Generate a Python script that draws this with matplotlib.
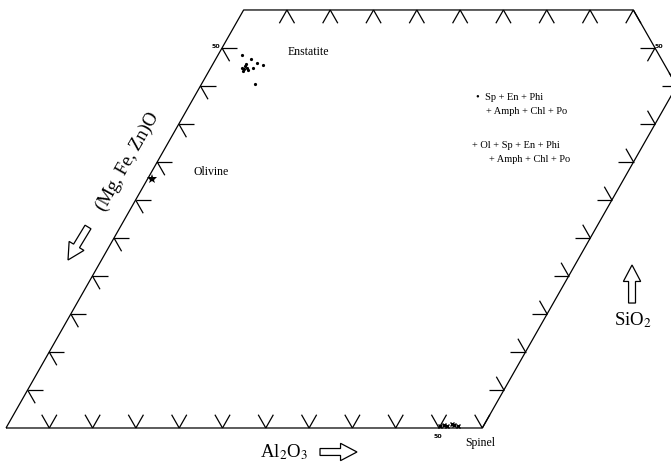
import numpy as np
import matplotlib.pyplot as plt
from matplotlib.patches import FancyArrow

plt.rcParams['font.family'] = ['Liberation Serif', 'DejaVu Serif']
plt.rcParams['mathtext.fontset'] = 'stix'

# compositions in wt% : Al2O3 runs along the bottom, SiO2 up the left edge
outline_al = [0, 55, 55, 45, 0, 0]
outline_si = [0, 0, 45, 55, 55, 0]

enst_al = [2.8, 4.0, 5.0, 3.8, 3.9, 4.2, 3.9, 4.9, 5.8, 6.2, 3.8, 4.4, 3.6]
enst_si = [49.1, 48.6, 48.0, 47.6, 47.2, 47.4, 47.0, 47.4, 47.8, 45.3, 47.9, 47.1, 47.3]
ol_al = [0.5]
ol_si = [32.8]
sp_al = [50.0, 50.4, 50.8, 51.2, 51.6, 52.0]
sp_si = [0.3, 0.45, 0.3, 0.5, 0.35, 0.3]

ticks = np.arange(5, 60, 5)
L = 1.75  # tick length

# skewed projection of the (Al2O3, SiO2) plane
SX, SY = 0.4989, 0.8776


def proj(al, si):
    al = np.asarray(al, float)
    si = np.asarray(si, float)
    return al + SX * si, SY * si


fig = plt.figure(figsize=(6.71, 4.68), dpi=100)
ax = fig.add_axes([0, 0, 1, 1])
ax.set_xlim(-0.693, 76.79)
ax.set_ylim(-4.619, 49.42)
ax.axis('off')

kw = dict(color='black', lw=0.9, solid_capstyle='butt')
ax.plot(*proj(outline_al, outline_si), **kw)


def seg(a0, s0, a1, s1):
    ax.plot(*proj([a0, a1], [s0, s1]), **kw)


# bottom edge: V ticks
for a in ticks:
    seg(a, 0, a, L)
    seg(a, 0, a - L, L)
# top edge: inverted V ticks
for a in ticks[ticks <= 45]:
    seg(a, 55, a, 55 - L)
    seg(a, 55, a + L, 55 - L)
# left edge
for s in ticks[ticks <= 50]:
    seg(0, s, L, s)
    seg(0, s, L, s - L)
# lower right edge
for s in ticks[ticks <= 45]:
    seg(55, s, 55 - L, s)
    seg(55, s, 55 - L, s + L)
# upper right edge
seg(50, 50, 50 - L, 50)
seg(50, 50, 50, 50 - L)

# analyses
ax.plot(*proj(enst_al, enst_si), 'o', color='black', ms=2.3, mew=0)
ax.plot(*proj(ol_al, ol_si), '*', color='black', ms=7, mew=0)
ax.plot(*proj(sp_al, sp_si), 'x', color='black', ms=2.5, mew=1.0)

# hollow arrows
akw = dict(width=0.8, head_width=2.0, head_length=1.9, length_includes_head=True,
           fc='white', ec='black', lw=0.9)
ax.add_patch(FancyArrow(9.47, 23.21, -2.31, -3.81, **akw))
ax.add_patch(FancyArrow(36.26, -2.77, 4.27, 0, **akw))
ax.add_patch(FancyArrow(72.29, 14.43, 0, 4.39, **akw))


def fpos(x, y):
    return x / 671, 1 - y / 468


fig.text(*fpos(128, 162), '(Mg, Fe, Zn)O', fontsize=13.5, rotation=60.4,
         ha='center', va='center')
fig.text(*fpos(260, 452), 'Al$_2$O$_3$', fontsize=13.5, ha='left', va='center')
fig.text(*fpos(633, 320), 'SiO$_2$', fontsize=13.5, ha='center', va='center')

fig.text(*fpos(288, 52), 'Enstatite', fontsize=8.5, va='center')
fig.text(*fpos(193, 172), 'Olivine', fontsize=8.5, va='center')
fig.text(*fpos(465, 443), 'Spinel', fontsize=8.5, va='center')

fig.text(*fpos(476, 97), '\u2022  Sp + En + Phi', fontsize=7.5, va='center')
fig.text(*fpos(486, 112), '+ Amph + Chl + Po', fontsize=7.5, va='center')
fig.text(*fpos(472, 145), '+ Ol + Sp + En + Phi', fontsize=7.5, va='center')
fig.text(*fpos(489, 159), '+ Amph + Chl + Po', fontsize=7.5, va='center')

skw = dict(fontsize=4.5, fontweight='bold', family='DejaVu Sans', va='center')
fig.text(*fpos(220, 46), '50', ha='right', **skw)
fig.text(*fpos(655, 47), '50', ha='left', **skw)
fig.text(*fpos(438, 436), '50', ha='center', **skw)

fig.savefig('out.png', dpi=100)
